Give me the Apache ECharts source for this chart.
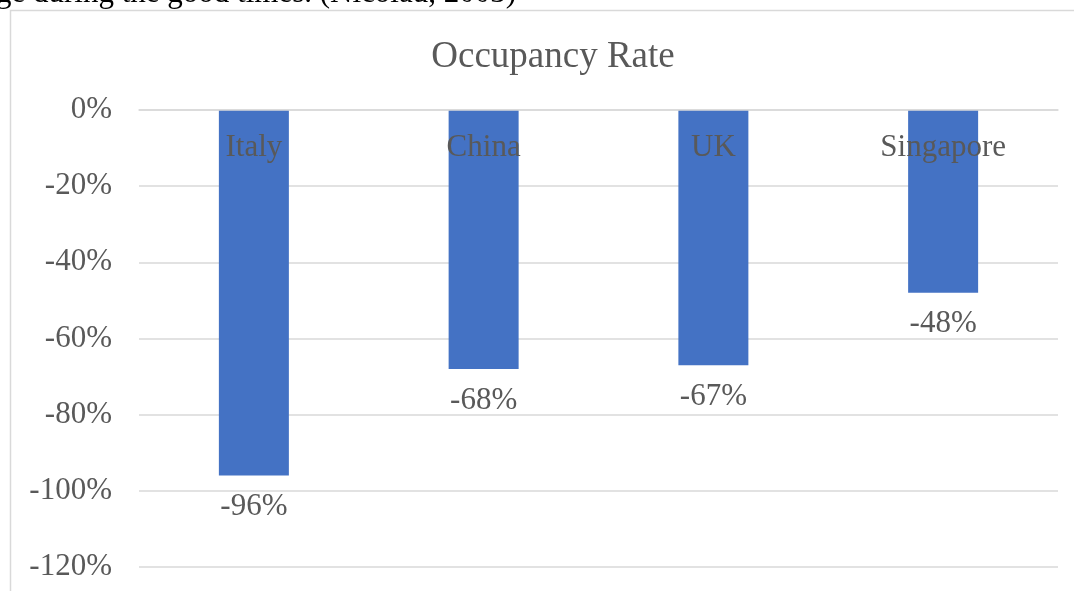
<!DOCTYPE html>
<html>
<head>
<meta charset="utf-8">
<script src="https://cdn.jsdelivr.net/npm/echarts@6/dist/echarts.min.js"></script>
<style>
  html, body { margin: 0; padding: 0; background: #fff; }
  #chart { width: 1074px; height: 591px; }
</style>
</head>
<body>
<div id="chart"></div>
<script>
// data
const countries = ['Italy', 'China', 'UK', 'Singapore']
const occupancyChange = [-96, -68, -67, -48]
const yTicks = [0, -20, -40, -60, -80, -100, -120]

const serif = '"Liberation Serif", "DejaVu Serif", serif'
const grey = '#595959'

var myChart = echarts.init(document.getElementById('chart'))
var option = {
  animation: false,
  backgroundColor: '#fff',
  title: {
    text: 'Occupancy Rate',
    top: 34,
    left: 548,
    textAlign: 'center',
    textStyle: { fontFamily: serif, fontSize: 37, fontWeight: 'normal', color: grey }
  },
  graphic: [
    {
      type: 'rect',
      shape: { x: 10.5, y: 10.5, width: 1100, height: 620 },
      style: { fill: 'none', stroke: '#d9d9d9', lineWidth: 1.5 }
    },
    {
      /* cut-off line of the page text above the chart */
      type: 'text',
      left: -4,
      top: -22,
      style: { text: 'ge during the good times. (Nicolau, 2003)', font: '31px ' + serif, fill: '#000' }
    }
  ],
  grid: { left: 139, right: 16, top: 110, bottom: 24 },
  xAxis: {
    type: 'category',
    position: 'top',
    data: countries,
    z: 5,
    axisLine: { show: true, lineStyle: { color: '#d9d9d9', width: 1.5 } },
    axisTick: { show: false },
    axisLabel: {
      inside: true,
      margin: 22,
      fontFamily: serif,
      fontSize: 31,
      color: grey
    }
  },
  yAxis: {
    type: 'value',
    min: -120,
    max: 0,
    interval: 20,
    axisLine: { show: false },
    axisTick: { show: false },
    splitLine: { lineStyle: { color: '#d9d9d9', width: 1.5 } },
    axisLabel: {
      margin: 27,
      fontFamily: serif,
      fontSize: 31,
      color: grey,
      formatter: v => yTicks.includes(v) ? v + '%' : ''
    }
  },
  series: [
    {
      type: 'bar',
      data: occupancyChange,
      barWidth: 70,
      itemStyle: { color: '#4472c4' },
      label: {
        show: true,
        position: 'bottom',
        distance: 16,
        fontFamily: serif,
        fontSize: 31,
        color: grey,
        formatter: p => p.value + '%'
      }
    }
  ]
}
myChart.setOption(option)
</script>
</body>
</html>
